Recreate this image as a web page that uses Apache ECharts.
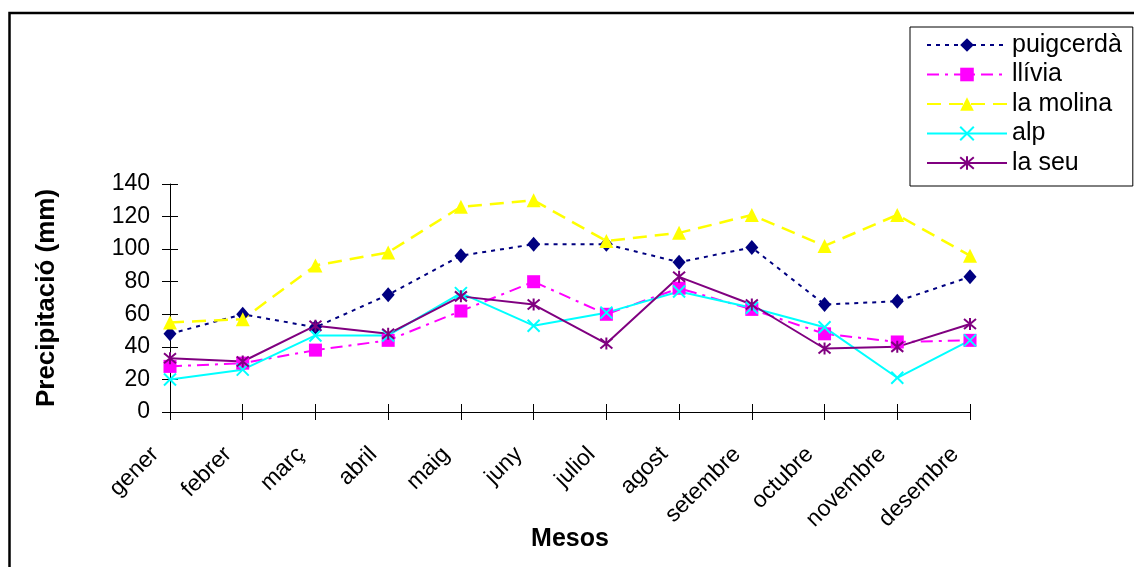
<!DOCTYPE html>
<html>
<head>
<meta charset="utf-8">
<script src="https://cdn.jsdelivr.net/npm/echarts@6/dist/echarts.min.js"></script>
<style>
  html, body { margin: 0; padding: 0; background: #fff; }
  #chart { width: 1134px; height: 567px; }
</style>
</head>
<body>
<div id="chart"></div>
<script>
// Monthly precipitation (mm) at five Cerdanya stations
const mesos = ['gener', 'febrer', 'març', 'abril', 'maig', 'juny', 'juliol', 'agost', 'setembre', 'octubre', 'novembre', 'desembre'];
const puigcerda = [48, 60, 52, 72, 96, 103, 103, 92, 101, 66, 68, 83];
const llivia    = [28, 30, 38, 44, 62, 80, 60, 76, 63, 48, 43, 44];
const laMolina  = [55, 57, 90, 98, 126, 130, 105, 110, 121, 102, 121, 96];
const alp       = [20, 26, 47, 47, 73, 53, 61, 74, 64, 52, 21, 44];
const laSeu     = [33, 31, 53, 48, 71, 66, 42, 83, 66, 39, 40, 54];
const yTicks = { min: 0, max: 140, interval: 20 };

const FONT = '"Liberation Sans", Arial, sans-serif';
const crossPath = 'path://M0,0L10,10M10,0L0,10';
const starPath = 'path://M0,0L10,10M10,0L0,10M5,-1L5,11';

function lineSeries(name, data, color, dash, width, symbol, size, strokeSymbol) {
  return {
    name: name,
    type: 'line',
    data: data,
    xAxisIndex: 0,
    yAxisIndex: 0,
    symbol: symbol,
    symbolSize: size,
    showAllSymbol: true,
    animation: false,
    lineStyle: { color: color, width: width, type: dash },
    itemStyle: strokeSymbol
      ? { color: color, borderColor: color, borderWidth: 2 }
      : { color: color, borderWidth: 0 },
    emphasis: { disabled: true }
  };
}

const chart = echarts.init(document.getElementById('chart'), null, { renderer: 'canvas' });

const axisLineStyle = { color: '#000', width: 1 };

chart.setOption({
  backgroundColor: '#fff',
  animation: false,
  textStyle: { fontFamily: FONT, color: '#000' },
  graphic: [{
    type: 'rect',
    shape: { x: 9.5, y: 13, width: 1200, height: 600 },
    style: { fill: 'none', stroke: '#000', lineWidth: 2.5 },
    silent: true
  }],
  grid: { left: 170, right: 164, top: 184, bottom: 155 },
  legend: {
    orient: 'vertical',
    left: 910,
    top: 27,
    padding: [5.5, 11, 10.5, 16],
    itemWidth: 80,
    itemHeight: 17,
    itemGap: 4.5,
    backgroundColor: '#fff',
    borderColor: '#000',
    borderWidth: 1,
    textStyle: { fontFamily: FONT, fontSize: 25, color: '#000', lineHeight: 25 },
    data: ['puigcerdà', 'llívia', 'la molina', 'alp', 'la seu']
  },
  xAxis: [{
    type: 'category',
    data: mesos,
    boundaryGap: false,
    name: 'Mesos',
    nameLocation: 'middle',
    nameGap: 115,
    nameMoveOverlap: false,
    nameTextStyle: { fontFamily: FONT, fontSize: 25, fontWeight: 'bold', color: '#000' },
    axisLine: { lineStyle: axisLineStyle },
    axisTick: { show: true, length: 8, inside: false, lineStyle: axisLineStyle },
    axisLabel: { rotate: 45, fontSize: 23, color: '#000', fontFamily: FONT, margin: 24, padding: [0, 21, 0, 0], interval: 0 },
    splitLine: { show: false }
  }, {
    type: 'category',
    data: mesos,
    boundaryGap: false,
    position: 'bottom',
    axisLine: { show: false },
    axisTick: { show: true, length: 8, inside: true, lineStyle: axisLineStyle },
    axisLabel: { show: false },
    splitLine: { show: false }
  }],
  yAxis: [{
    type: 'value',
    min: yTicks.min,
    max: yTicks.max,
    interval: yTicks.interval,
    name: 'Precipitació (mm)',
    nameLocation: 'middle',
    nameGap: 110,
    nameRotate: 90,
    nameMoveOverlap: false,
    nameTextStyle: { fontFamily: FONT, fontSize: 26, fontWeight: 'bold', color: '#000' },
    axisLine: { show: true, lineStyle: axisLineStyle },
    axisTick: { show: true, length: 8, inside: false, lineStyle: axisLineStyle },
    axisLabel: { fontSize: 23, color: '#000', fontFamily: FONT, margin: 20 },
    splitLine: { show: false }
  }, {
    type: 'value',
    min: yTicks.min,
    max: yTicks.max,
    interval: yTicks.interval,
    position: 'left',
    axisLine: { show: false },
    axisTick: { show: true, length: 8, inside: true, lineStyle: axisLineStyle },
    axisLabel: { show: false },
    splitLine: { show: false }
  }],
  series: [
    lineSeries('puigcerdà', puigcerda, '#000080', [4, 5], 2, 'diamond', [13, 15], false),
    lineSeries('llívia', llivia, '#FF00FF', [12, 6, 3, 6], 2, 'rect', 13, false),
    lineSeries('la molina', laMolina, '#FFFF00', [14, 8], 2.5, 'triangle', 14, false),
    lineSeries('alp', alp, '#00FFFF', 'solid', 2, crossPath, 12, true),
    lineSeries('la seu', laSeu, '#800080', 'solid', 2, starPath, 12, true)
  ]
});
</script>
</body>
</html>
